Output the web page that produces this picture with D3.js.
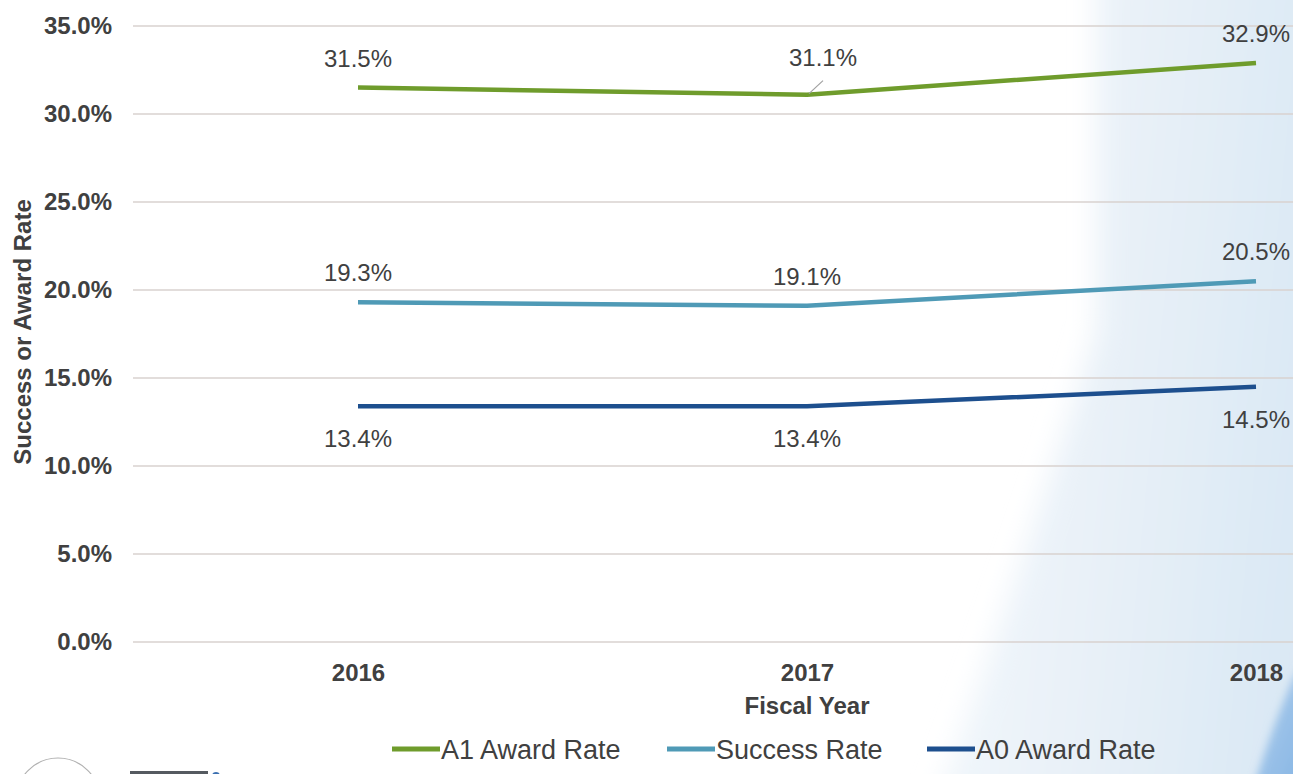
<!DOCTYPE html>
<html>
<head>
<meta charset="utf-8">
<script src="https://cdn.jsdelivr.net/npm/d3@7/dist/d3.min.js"></script>
<style>
  html, body { margin: 0; padding: 0; background: #ffffff; }
  svg { display: block; font-family: "Liberation Sans", Arial, sans-serif; }
</style>
</head>
<body>
<svg id="chart" width="1293" height="774"></svg>
<script>
// ---- data ----
const years = ["2016", "2017", "2018"];
const seriesNames = ["A1 Award Rate", "Success Rate", "A0 Award Rate"];
const a1Award = [31.5, 31.1, 32.9];
const successRate = [19.3, 19.1, 20.5];
const a0Award = [13.4, 13.4, 14.5];
const yTicks = [0, 5, 10, 15, 20, 25, 30, 35];

const seriesColors = ["#6f9c2c", "#4f9ab6", "#1d4f8e"];
const series = [
  { name: seriesNames[0], values: a1Award, color: seriesColors[0], labelPos: "above" },
  { name: seriesNames[1], values: successRate, color: seriesColors[1], labelPos: "above" },
  { name: seriesNames[2], values: a0Award, color: seriesColors[2], labelPos: "below" }
];

const svg = d3.select("#chart");
const W = 1293, H = 774;

// ---- background decoration ----
const defs = svg.append("defs");
const g1 = defs.append("linearGradient").attr("id", "bgGrad")
  .attr("x1", "0").attr("y1", "0").attr("x2", "1").attr("y2", "0.2");
g1.append("stop").attr("offset", "0").attr("stop-color", "#f5f9fc");
g1.append("stop").attr("offset", "0.5").attr("stop-color", "#e9f1f8");
g1.append("stop").attr("offset", "1").attr("stop-color", "#dae8f4");
const g2 = defs.append("linearGradient").attr("id", "blueGrad")
  .attr("x1", "0").attr("y1", "0").attr("x2", "1").attr("y2", "1");
g2.append("stop").attr("offset", "0").attr("stop-color", "#b5d2ee");
g2.append("stop").attr("offset", "1").attr("stop-color", "#7eb0e2");
defs.append("filter").attr("id", "soft").attr("x", "-20%").attr("y", "-20%")
  .attr("width", "140%").attr("height", "140%")
  .append("feGaussianBlur").attr("stdDeviation", 14);
defs.append("filter").attr("id", "soft2")
  .append("feGaussianBlur").attr("stdDeviation", 4);

svg.append("rect").attr("width", W).attr("height", H).attr("fill", "#ffffff");
svg.append("path")
  .attr("d", "M1097,-40 L1340,-40 L1340,820 L930,820 C990,660 1050,480 1097,330 Z")
  .attr("fill", "url(#bgGrad)").attr("filter", "url(#soft)");
svg.append("path")
  .attr("d", "M1320,640 L1320,800 L1250,800 C1262,760 1275,720 1293,680 Z")
  .attr("fill", "url(#blueGrad)").attr("filter", "url(#soft2)");

// logo fragments bottom-left
svg.append("circle").attr("cx", 58).attr("cy", 800).attr("r", 42)
  .attr("fill", "none").attr("stroke", "#b0b0b0").attr("stroke-width", 1.2);
svg.append("rect").attr("x", 130).attr("y", 771).attr("width", 78).attr("height", 4).attr("fill", "#555a60");
svg.append("circle").attr("cx", 216).attr("cy", 776).attr("r", 4).attr("fill", "#3a6fb0");

// ---- scales ----
const x = d3.scalePoint().domain(years).range([133.5, 1480.5]).padding(0.5);
const y = d3.scaleLinear().domain([0, 35]).range([642, 26]);

// gridlines
svg.append("g").selectAll("line").data(yTicks).join("line")
  .attr("x1", 133).attr("x2", W)
  .attr("y1", d => y(d)).attr("y2", d => y(d))
  .attr("stroke", "#d8d2cf").attr("stroke-width", 1.6);

// y axis
const yAxis = d3.axisLeft(y).tickValues(yTicks).tickSize(0).tickPadding(0)
  .tickFormat(d => d.toFixed(1) + "%");
const yg = svg.append("g").attr("transform", "translate(112,0)").call(yAxis);
yg.select(".domain").remove();
yg.selectAll("text").attr("font-size", 24).attr("font-weight", "bold")
  .attr("fill", "#404040").attr("font-family", "Liberation Sans, Arial, sans-serif");

// x axis
const xAxis = d3.axisBottom(x).tickSize(0).tickPadding(0);
const xg = svg.append("g").attr("transform", "translate(0,642)").call(xAxis);
xg.select(".domain").remove();
xg.selectAll("text").attr("font-size", 24).attr("font-weight", "bold")
  .attr("fill", "#404040").attr("dy", null).attr("y", 0)
  .attr("transform", "translate(0,39)")
  .attr("font-family", "Liberation Sans, Arial, sans-serif");

// axis titles
svg.append("text").attr("x", 807).attr("y", 714).attr("text-anchor", "middle")
  .attr("font-size", 24).attr("font-weight", "bold").attr("fill", "#404040")
  .text("Fiscal Year");
svg.append("text").attr("transform", "translate(31,332) rotate(-90)")
  .attr("text-anchor", "middle").attr("font-size", 24).attr("font-weight", "bold")
  .attr("fill", "#404040").text("Success or Award Rate");

// lines
const line = d3.line().x((d, i) => x(years[i])).y(d => y(d));
svg.append("g").selectAll("path").data(series).join("path")
  .attr("d", s => line(s.values))
  .attr("fill", "none").attr("stroke", s => s.color)
  .attr("stroke-width", 4.5).attr("stroke-linejoin", "round");

// data labels
const labelShift = { "A1 Award Rate|2017": { dx: 16, dy: -8, leader: true } };
series.forEach(s => {
  s.values.forEach((v, i) => {
    const px = x(years[i]), py = y(v);
    const key = s.name + "|" + years[i];
    const sh = labelShift[key] || { dx: 0, dy: 0 };
    const ty = s.labelPos === "above" ? py - 21 + sh.dy : py + 41 + sh.dy;
    svg.append("text").attr("x", px + sh.dx).attr("y", ty)
      .attr("text-anchor", "middle").attr("font-size", 24)
      .attr("fill", "#404040").text(v.toFixed(1) + "%");
    if (sh.leader) {
      svg.append("line").attr("x1", px + 2).attr("y1", py - 1)
        .attr("x2", px + 16).attr("y2", py - 14)
        .attr("stroke", "#a0a0a0").attr("stroke-width", 1.2);
    }
  });
});

// legend
const legendX = [392, 667, 927];
const lg = svg.append("g");
series.forEach((s, i) => {
  lg.append("line").attr("x1", legendX[i]).attr("x2", legendX[i] + 48)
    .attr("y1", 749).attr("y2", 749)
    .attr("stroke", s.color).attr("stroke-width", 5);
  lg.append("text").attr("x", legendX[i] + 49).attr("y", 759)
    .attr("font-size", 27).attr("fill", "#404040").text(s.name);
});
</script>
</body>
</html>
